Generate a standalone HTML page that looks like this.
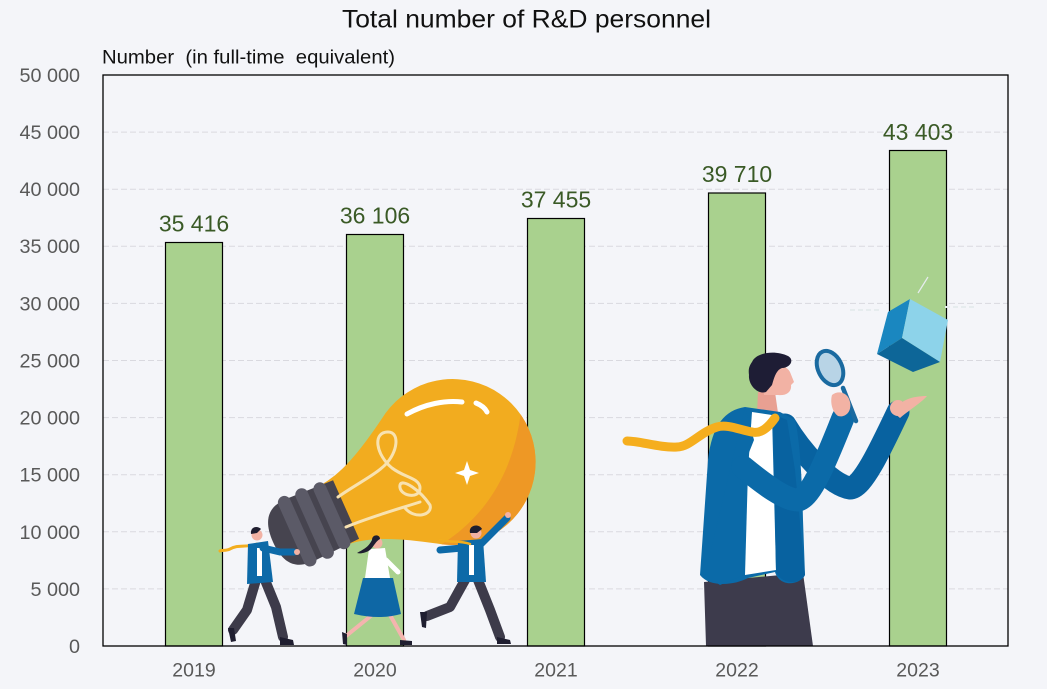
<!DOCTYPE html>
<html><head><meta charset="utf-8"><style>
html,body{margin:0;padding:0;background:#f4f5f9;}
svg{display:block;}
text{font-family:"Liberation Sans",Arial,sans-serif;white-space:pre;}
</style></head><body>
<svg width="1047" height="689" viewBox="0 0 1047 689" xmlns="http://www.w3.org/2000/svg">
<rect x="0" y="0" width="1047" height="689" fill="#f4f5f9"/>
<text x="342" y="27.5" font-size="25" fill="#111" textLength="369" lengthAdjust="spacingAndGlyphs">Total number of R&amp;D personnel</text>
<text x="102" y="63.3" font-size="19.5" fill="#111" textLength="293" lengthAdjust="spacingAndGlyphs">Number  (in full-time  equivalent)</text>

<!-- gridlines -->
<g stroke="#d9d9df" stroke-width="1" stroke-dasharray="6,3">
<line x1="103" x2="1008" y1="588.9" y2="588.9"/>
<line x1="103" x2="1008" y1="531.8" y2="531.8"/>
<line x1="103" x2="1008" y1="474.7" y2="474.7"/>
<line x1="103" x2="1008" y1="417.6" y2="417.6"/>
<line x1="103" x2="1008" y1="360.5" y2="360.5"/>
<line x1="103" x2="1008" y1="303.4" y2="303.4"/>
<line x1="103" x2="1008" y1="246.3" y2="246.3"/>
<line x1="103" x2="1008" y1="189.2" y2="189.2"/>
<line x1="103" x2="1008" y1="132.1" y2="132.1"/>
</g>

<!-- y tick labels -->
<g font-size="19.8" fill="#595959" text-anchor="end">
<text x="80" y="82">50 000</text>
<text x="80" y="139">45 000</text>
<text x="80" y="196">40 000</text>
<text x="80" y="253">35 000</text>
<text x="80" y="310.4">30 000</text>
<text x="80" y="367.5">25 000</text>
<text x="80" y="424.6">20 000</text>
<text x="80" y="481.7">15 000</text>
<text x="80" y="538.8">10 000</text>
<text x="80" y="595.9">5 000</text>
<text x="80" y="653">0</text>
</g>

<!-- bars -->
<g fill="#a9d18e" stroke="#000" stroke-width="1.2">
<rect x="165.5" y="242.5" width="57" height="403.5"/>
<rect x="346.5" y="234.5" width="57" height="411.5"/>
<rect x="527.5" y="218.5" width="57" height="427.5"/>
<rect x="708.5" y="193" width="57" height="453"/>
<rect x="889.5" y="150.5" width="57" height="495.5"/>
</g>
<g font-size="23" fill="#3a5a26" text-anchor="middle">
<text x="194" y="231.5">35 416</text>
<text x="375" y="223.5">36 106</text>
<text x="556" y="207.7">37 455</text>
<text x="737" y="182">39 710</text>
<text x="918" y="139.8">43 403</text>
</g>

<!-- x labels -->
<g font-size="19.5" fill="#595959" text-anchor="middle">
<text x="194" y="676.5">2019</text>
<text x="375" y="676.5">2020</text>
<text x="556" y="676.5">2021</text>
<text x="737" y="676.5">2022</text>
<text x="918" y="676.5">2023</text>
</g>

<!-- lightbulb -->
<defs>
<clipPath id="glass">
<path d="M70,-33 C95,-36 120,-50 149,-68 A83,83 0 1,1 149,68 C120,50 95,36 70,33 Z"/>
</clipPath>
</defs>
<g transform="translate(273,542) rotate(-24)">
<path d="M70,-33 C95,-36 120,-50 149,-68 A83,83 0 1,1 149,68 C120,50 95,36 70,33 Z" fill="#f2ac1f"/>
<g clip-path="url(#glass)">
<path d="M300,-60 C260,40 190,80 100,72 L100,120 L320,120 Z" fill="#ee9825"/>
</g>
<path d="M0,0 C0,-32 18,-34 30,-34 L80,-32 L80,32 L30,34 C18,34 0,32 0,0 Z" fill="#46444f"/>
<rect x="20" y="-38" width="13" height="76" rx="6.5" fill="#5b5a67"/>
<rect x="39" y="-38" width="13" height="76" rx="6.5" fill="#5b5a67"/>
<rect x="58" y="-36" width="13" height="72" rx="6.5" fill="#5b5a67"/>
</g>
<!-- filament -->
<g fill="none" stroke="#f8e2b0" stroke-width="3" stroke-linecap="round">
<path d="M338,497 C355,485 375,475 385,465 C398,452 400,432 388,432 C372,432 376,455 392,468 C405,478 420,478 420,488 C420,500 398,496 400,485 C402,478 420,490 430,505 C433,515 415,520 405,508"/>
<path d="M346,527 C370,517 395,510 420,502"/>
</g>
<g fill="none" stroke="#ffffff" stroke-width="5" stroke-linecap="round">
<path d="M407,414 C425,404 445,400 462,402"/>
<path d="M476,403 C481,405 485,408 487,412"/>
</g>
<path d="M467,461 L470,470 L479,473 L470,476 L467,485 L464,476 L455,473 L464,470 Z" fill="#fff"/>

<!-- man 1 -->
<g stroke-linecap="round" stroke-linejoin="round">
<path d="M257,544 C246,548 238,544 230,549 C226,551 222,550 220,551" fill="none" stroke="#f3ae1e" stroke-width="3"/>
<polyline points="256,580 247,610 233,630" fill="none" stroke="#3d3b4a" stroke-width="10"/>
<polyline points="265,580 276,607 283,637" fill="none" stroke="#3d3b4a" stroke-width="10"/>
<path d="M228,628 L234,628 L236,641 L231,642 Z" fill="#1f1e30"/>
<path d="M280,637 L293,640 L294,645 L280,645 Z" fill="#1f1e30"/>
<path d="M248,544 L268,541 L273,582 L247,584 Z" fill="#0d6aa8"/>
<rect x="257" y="548" width="5" height="28" fill="#fff"/>
<polyline points="263,548 280,552 294,552" fill="none" stroke="#0d6aa8" stroke-width="7"/>
<circle cx="297" cy="552" r="3" fill="#f2b2a4"/>
<circle cx="257" cy="535" r="5.5" fill="#f2b2a4"/>
<path d="M251,534 C250,527 257,525 261,529 L257,533 Z" fill="#1f1e30"/>
</g>

<!-- woman -->
<g stroke-linecap="round">
<line x1="372" y1="615" x2="346" y2="636" stroke="#f4b4ae" stroke-width="4"/>
<line x1="390" y1="615" x2="404" y2="640" stroke="#f4b4ae" stroke-width="4"/>
<path d="M342,632 L347,634 L347,645 L343,644 Z" fill="#1f1e30"/>
<path d="M400,640 L412,641 L412,645 L400,645 Z" fill="#1f1e30"/>
<path d="M363,578 L393,578 L401,614 Q380,620 354,614 Z" fill="#0e67a5"/>
<path d="M369,549 L385,548 L390,578 L365,578 Z" fill="#fff"/>
<line x1="386" y1="560" x2="398" y2="572" stroke="#fff" stroke-width="5"/>
<circle cx="377" cy="543" r="5.5" fill="#f2b2a4"/>
<path d="M372,540 C372,534 380,534 380,539 C376,541 374,546 370,550 C366,553 360,554 357,553 C362,550 368,548 372,540 Z" fill="#1f1e30"/>
</g>

<!-- man 3 -->
<g stroke-linecap="round" stroke-linejoin="round">
<polyline points="465,580 450,607 427,616" fill="none" stroke="#3d3b4a" stroke-width="10"/>
<polyline points="478,580 490,610 500,637" fill="none" stroke="#3d3b4a" stroke-width="10"/>
<path d="M420,612 L427,612 L426,628 L422,627 Z" fill="#1f1e30"/>
<path d="M497,637 L510,640 L511,644 L497,644 Z" fill="#1f1e30"/>
<path d="M458,541 L483,539 L486,582 L457,582 Z" fill="#0d6aa8"/>
<rect x="469" y="545" width="5" height="30" fill="#fff"/>
<polyline points="480,545 495,530 507,518" fill="none" stroke="#0d6aa8" stroke-width="7"/>
<polyline points="462,548 440,550" fill="none" stroke="#0d6aa8" stroke-width="7"/>
<circle cx="508" cy="515" r="3" fill="#f2b2a4"/>
<path d="M470,544 C460,540 450,543 440,540" fill="none" stroke="#f3ae1e" stroke-width="2.5"/>
<circle cx="476" cy="533" r="5.5" fill="#f2b2a4"/>
<path d="M470,533 C468,525 479,523 482,529 L477,533 Z" fill="#1f1e30"/>
</g>

<!-- big man -->
<g stroke-linecap="round" stroke-linejoin="round">
<path d="M704,582 L803,573 L813,646 L706,646 Z" fill="#3d3b4c"/>
<!-- back arm -->
<path d="M785,425 C800,450 830,485 850,488 C862,488 880,450 898,412" fill="none" stroke="#0862a0" stroke-width="23"/>
<path d="M893,412 C900,400 912,396 927,396 C922,402 912,408 900,418 Z" fill="#f2b2a4"/>
<circle cx="898" cy="408" r="8" fill="#f2b2a4"/>
<!-- neck -->
<path d="M758,392 L775,392 L778,413 L757,413 Z" fill="#e8a092"/>
<!-- jacket -->
<path d="M745,407 C725,410 712,425 708,460 L700,575 C710,588 735,585 748,578 L775,572 C780,588 800,585 805,575 L803,520 C802,480 800,440 795,420 L780,412 Z" fill="#0b6aa8"/>
<path d="M752,412 L772,415 L776,570 L745,575 L748,470 Z" fill="#fff"/>
<path d="M773,414 L787,420 L795,470 L805,575 C800,585 782,585 776,572 Z" fill="#0862a0"/>
<path d="M745,407 L754,440 L742,470 L744,575 L720,585 L705,575 Z" fill="#0b6aa8"/>
<!-- front arm -->
<path d="M743,467 C765,485 785,500 798,500 C812,498 830,450 843,418" fill="none" stroke="#0b6aa8" stroke-width="23"/>
<!-- tie -->
<path d="M775,418 C768,428 760,434 752,432 C740,430 728,424 717,427 C700,432 690,447 677,447 C660,448 640,441 627,441" fill="none" stroke="#f5ae1e" stroke-width="9"/>
<!-- magnifier -->
<line x1="843" y1="388" x2="856" y2="421" stroke="#1a6aa0" stroke-width="4.5"/>
<ellipse cx="830" cy="368" rx="12" ry="18" transform="rotate(-25 830 368)" fill="#b8d4e6" stroke="#1a6aa0" stroke-width="4"/>
<path d="M832,395 C838,390 848,392 850,402 C852,412 845,418 838,416 C832,412 830,402 832,395 Z" fill="#f2b2a4"/>
<!-- head -->
<path d="M762,368 C770,362 786,364 790,372 L794,382 L791,385 C792,392 786,396 778,395 L764,395 Z" fill="#f2b2a4"/>
<path d="M752,362 C756,352 776,350 788,356 C795,360 790,368 782,368 C776,370 774,378 772,385 L766,392 C758,395 748,385 749,375 C748,368 750,365 752,362 Z" fill="#1e1d35"/>
</g>

<!-- cube -->
<g>
<line x1="918" y1="293" x2="928" y2="277" stroke="#e6ecee" stroke-width="1.2"/>
<line x1="945" y1="307" x2="975" y2="307" stroke="#e6ecee" stroke-width="2" stroke-dasharray="5,3"/>
<line x1="850" y1="310" x2="880" y2="310" stroke="#e6ecee" stroke-width="2" stroke-dasharray="5,3"/>
<path d="M888,312 L910,299 L902,338 L877,354 Z" fill="#1a87c0"/>
<path d="M910,299 L948,320 L940,362 L902,338 Z" fill="#8dd3ea"/>
<path d="M877,354 L902,338 L940,362 L913,372 Z" fill="#0d6698"/>
</g>

<!-- frame -->
<rect x="103" y="75" width="905" height="571" fill="none" stroke="#000" stroke-width="1.3"/>
</svg>
</body></html>
